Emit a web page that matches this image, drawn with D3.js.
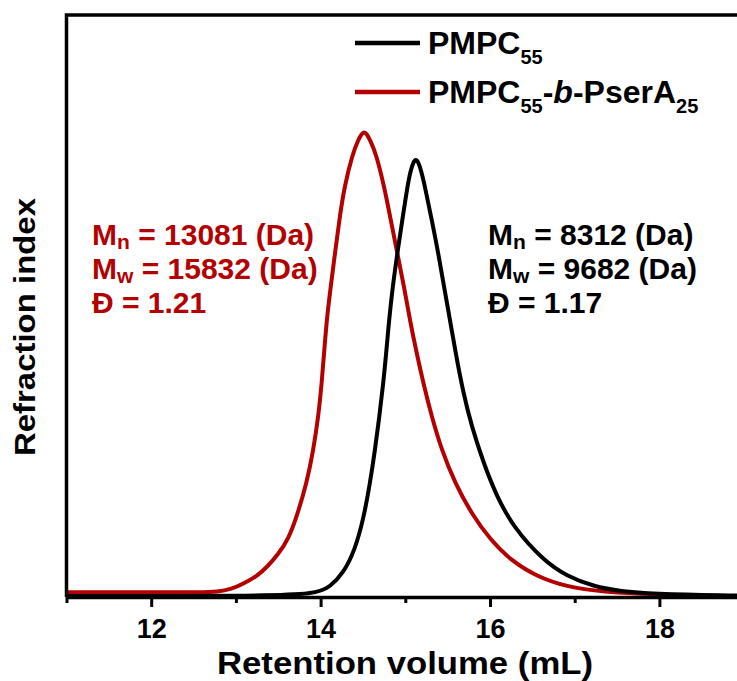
<!DOCTYPE html>
<html>
<head>
<meta charset="utf-8">
<script src="https://cdn.jsdelivr.net/npm/d3@7"></script>
<style>
  body { margin: 0; background: #fff; }
  text { font-family: "Liberation Sans", Arial, sans-serif; font-weight: bold; }
</style>
</head>
<body>
<svg id="chart" width="737" height="681"></svg>
<script>
// retention volume (mL) / normalized RI signal
const pmpcVol = [11.0, 13.2, 13.954, 14.111, 14.268, 14.406, 14.512, 14.583, 14.642, 14.693, 14.740, 14.772, 14.808, 14.851, 14.906, 14.965, 15.024, 15.064, 15.095, 15.123, 15.155, 15.185, 15.233, 15.312, 15.390, 15.457, 15.528, 15.595, 15.685, 15.784, 15.921, 16.071, 16.275, 16.629, 16.906, 17.22, 17.55, 17.9, 18.84, 19.0];
const pmpcRI  = [0.002, 0.002, 0.006, 0.022, 0.051, 0.101, 0.173, 0.245, 0.316, 0.388, 0.460, 0.520, 0.596, 0.668, 0.740, 0.812, 0.883, 0.919, 0.936, 0.943, 0.936, 0.919, 0.883, 0.812, 0.740, 0.668, 0.596, 0.525, 0.439, 0.367, 0.290, 0.220, 0.150, 0.079, 0.045, 0.023, 0.012, 0.007, 0.003, 0.003];

const blockVol = [11.0, 12.0, 12.6, 12.78, 12.95, 13.09, 13.25, 13.37, 13.50, 13.62, 13.718, 13.836, 13.914, 13.973, 14.013, 14.044, 14.072, 14.119, 14.170, 14.221, 14.280, 14.379, 14.445, 14.48, 14.512, 14.545, 14.583, 14.654, 14.752, 14.828, 14.906, 14.985, 15.055, 15.126, 15.213, 15.312, 15.430, 15.587, 15.803, 16.0, 16.236, 16.551, 16.906, 17.30, 18.05, 18.84, 19.0];
const blockRI  = [0.010, 0.010, 0.010, 0.011, 0.017, 0.029, 0.045, 0.065, 0.092, 0.125, 0.173, 0.245, 0.316, 0.388, 0.460, 0.532, 0.596, 0.668, 0.740, 0.812, 0.883, 0.955, 0.984, 0.996, 1.002, 0.997, 0.984, 0.955, 0.883, 0.812, 0.740, 0.668, 0.596, 0.532, 0.460, 0.388, 0.316, 0.245, 0.173, 0.125, 0.080, 0.044, 0.022, 0.011, 0.004, 0.002, 0.002];

const majorTicks = [12, 14, 16, 18];
const minorTicks = [11, 13, 15, 17, 19];

const black = "#000", red = "#b30000";

const svg = d3.select("#chart");
const left = 66.5, plotTop = 15, bottom = 597;

const x = d3.scaleLinear().domain([11, 19]).range([left, left + 8 * 84.7]);
const y = d3.scaleLinear().domain([0, 1]).range([bottom, 132.5]);

svg.append("clipPath").attr("id", "plot")
  .append("rect").attr("x", left).attr("y", plotTop).attr("width", 737 - left).attr("height", bottom - plotTop);

const line = d3.line()
  .x(d => x(d[0]))
  .y(d => y(d[1]))
  .curve(d3.curveBasis);

const curves = svg.append("g").attr("clip-path", "url(#plot)");
curves.append("path")
  .datum(d3.zip(blockVol, blockRI))
  .attr("d", line).attr("fill", "none").attr("stroke", red).attr("stroke-width", 4);
curves.append("path")
  .datum(d3.zip(pmpcVol, pmpcRI))
  .attr("d", line).attr("fill", "none").attr("stroke", black).attr("stroke-width", 4);

// bottom axis: major + minor ticks
const gx = svg.append("g").attr("transform", `translate(0,${bottom})`);
gx.call(d3.axisBottom(x).tickValues(majorTicks).tickSize(10).tickSizeOuter(0).tickPadding(12).tickFormat(d3.format("d")));
gx.selectAll(".tick line").attr("stroke-width", 3);
gx.selectAll(".tick text").attr("font-size", 27).attr("fill", "#000")
  .attr("font-family", "Liberation Sans, Arial, sans-serif").attr("font-weight", "bold");
gx.select(".domain").attr("stroke-width", 3.5);

const gm = svg.append("g").attr("transform", `translate(0,${bottom})`);
gm.call(d3.axisBottom(x).tickValues(minorTicks).tickSize(6).tickSizeOuter(0).tickFormat(""));
gm.select(".domain").remove();
gm.selectAll(".tick line").attr("stroke-width", 3);

// left + top frame
svg.append("path")
  .attr("d", `M${left},${bottom}V${plotTop}H737`)
  .attr("fill", "none").attr("stroke", "#000").attr("stroke-width", 3.5);

// axis titles
svg.append("text")
  .attr("x", 405).attr("y", 674).attr("text-anchor", "middle")
  .attr("font-size", 31).attr("textLength", 376).attr("lengthAdjust", "spacingAndGlyphs")
  .text("Retention volume (mL)");

svg.append("text")
  .attr("transform", "translate(35,327) rotate(-90)")
  .attr("text-anchor", "middle")
  .attr("font-size", 29).attr("textLength", 258).attr("lengthAdjust", "spacingAndGlyphs")
  .text("Refraction index");

// legend
const legend = [
  { y: 43, color: black, label: [["PMPC", 0], ["55", 1]] },
  { y: 92, color: red, label: [["PMPC", 0], ["55", 1], ["-", 0], ["b", 2], ["-PserA", 0], ["25", 1]] }
];
legend.forEach(l => {
  svg.append("line").attr("x1", 355).attr("x2", 420).attr("y1", l.y).attr("y2", l.y)
    .attr("stroke", l.color).attr("stroke-width", 4.5);
  const t = svg.append("text").attr("x", 428).attr("y", l.y + 10.5).attr("font-size", 32).attr("fill", "#000");
  let shifted = false;
  l.label.forEach(([s, kind]) => {
    const ts = t.append("tspan").text(s);
    if (kind === 1) { ts.attr("font-size", 20).attr("dy", 10); shifted = true; }
    else {
      if (shifted) { ts.attr("dy", -10); shifted = false; }
      if (kind === 2) ts.attr("font-style", "italic");
    }
  });
});

// molecular weight notes
const notes = [
  { x: 92, color: red, mn: "13081", mw: "15832", pdi: "1.21" },
  { x: 488, color: black, mn: "8312", mw: "9682", pdi: "1.17" }
];
notes.forEach(n => {
  const g = svg.append("g").attr("fill", n.color).attr("font-size", 30);
  [["n", n.mn, 245], ["w", n.mw, 279]].forEach(([sub, val, yy]) => {
    const t = g.append("text").attr("x", n.x).attr("y", yy);
    t.append("tspan").text("M");
    t.append("tspan").attr("font-size", 21).attr("dy", 4).text(sub);
    t.append("tspan").attr("dy", -4).text(` = ${val} (Da)`);
  });
  g.append("text").attr("x", n.x).attr("y", 313).text(`Đ = ${n.pdi}`);
});
</script>
</body>
</html>
